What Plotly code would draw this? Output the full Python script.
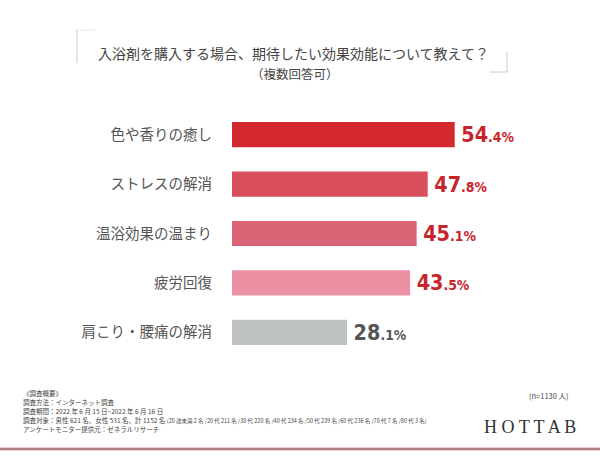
import plotly.graph_objects as go

categories = ["色や香りの癒し", "ストレスの解消", "温浴効果の温まり", "疲労回復", "肩こり・腰痛の解消"]
values = [54.4, 47.8, 45.1, 43.5, 28.1]
bar_colors = ["#d4282f", "#d94f5c", "#dc6477", "#ec91a3", "#c0c3c3"]
label_colors = ["#c8242c", "#c8242c", "#c8242c", "#c8242c", "#555555"]

title_text = "入浴剤を購入する場合、期待したい効果効能について教えて？"
subtitle_text = "（複数回答可）"
footer_lines = [
    "《調査概要》",
    "調査方法：インターネット調査",
    "調査期間：2022 年 6 月 15 日~2022 年 6 月 16 日",
    "調査対象：男性 621 名、女性 531 名、計 1152 名 <span style='font-size:5.5px'>(20 歳未満 2 名 /20 代 211 名 /30 代 220 名 /40 代 234 名 /50 代 239 名 /60 代 236 名 /70 代 7 名 /80 代 3 名)</span>",
    "アンケートモニター提供元：ゼネラルリサーチ",
]
n_text = "(n=1130 人)"
brand_text = "H O T T A B"

W, H = 600, 456
L, R, T, B = 232, 20, 110, 99
PW, PH = W - L - R, H - T - B


def px(x):
    return (x - L) / PW


def py(y):
    return (H - B - y) / PH


def fmt(v):
    s = f"{v:.1f}"
    i, d = s.split(".")
    return (f"<span style='font-size:18px'>\u00a0</span>{i}"
            f"<span style='font-size:22px'>.{d}%</span>")


CJK = "Noto Sans CJK JP, Noto Sans, sans-serif"
NUM = "Liberation Sans Narrow, DejaVu Sans Condensed, Arial Narrow, sans-serif"

fig = go.Figure(
    go.Bar(
        x=values,
        y=categories,
        orientation="h",
        marker=dict(color=bar_colors, line=dict(width=0)),
        text=[fmt(v) for v in values],
        textposition="outside",
        textfont=dict(family=NUM, size=34, color=label_colors, weight="bold"),
        cliponaxis=False,
        hoverinfo="skip",
    )
)

annotations = [
    dict(text=title_text, x=px(293), y=py(53), xref="paper", yref="paper",
         showarrow=False, xanchor="center", yanchor="middle",
         font=dict(family=CJK, size=14, color="#444444")),
    dict(text=subtitle_text, x=px(295), y=py(73), xref="paper", yref="paper",
         showarrow=False, xanchor="center", yanchor="middle",
         font=dict(family=CJK, size=12.5, color="#444444")),
    dict(text=n_text, x=px(570), y=py(395), xref="paper", yref="paper",
         showarrow=False, xanchor="right", yanchor="middle", borderpad=0,
         font=dict(family=CJK, size=7.5, color="#444444")),
    dict(text=brand_text, x=px(530), y=py(427), xref="paper", yref="paper",
         showarrow=False, xanchor="center", yanchor="middle",
         font=dict(family="Liberation Serif, DejaVu Serif, serif", size=18, color="#333333")),
]
for k, line in enumerate(footer_lines):
    annotations.append(
        dict(text=line, x=px(22), y=py(393 + 9 * k), xref="paper", yref="paper",
             showarrow=False, xanchor="left", yanchor="middle", borderpad=0,
             font=dict(family=CJK, size=6.5, color="#444444"))
    )

gray = "#cccccc"
shapes = [
    dict(type="line", xref="paper", yref="paper", x0=px(77), x1=px(77), y0=py(30), y1=py(63), line=dict(color=gray, width=1)),
    dict(type="line", xref="paper", yref="paper", x0=px(77), x1=px(95), y0=py(30), y1=py(30), line=dict(color="#e6e6e6", width=1)),
    dict(type="line", xref="paper", yref="paper", x0=px(507), x1=px(507), y0=py(52), y1=py(72), line=dict(color=gray, width=1)),
    dict(type="line", xref="paper", yref="paper", x0=px(490), x1=px(507), y0=py(72), y1=py(72), line=dict(color=gray, width=1)),
    dict(type="line", xref="paper", yref="paper", x0=px(0), x1=px(600), y0=py(449), y1=py(449), line=dict(color="#f3c9c9", width=4)),
    dict(type="line", xref="paper", yref="paper", x0=px(0), x1=px(600), y0=py(449), y1=py(449), line=dict(color="#6b3a3a", width=1.2)),
]

fig.update_layout(
    width=W, height=H,
    margin=dict(l=L, r=R, t=T, b=B, autoexpand=False),
    paper_bgcolor="white", plot_bgcolor="white",
    showlegend=False,
    bargap=0.49,
    xaxis=dict(range=[0, 85], visible=False, fixedrange=True),
    yaxis=dict(autorange="reversed", showgrid=False, zeroline=False, showline=False,
               ticks="", ticklabelstandoff=19, automargin=False,
               tickfont=dict(family=CJK, size=14.5, color="#555555"), fixedrange=True),
    annotations=annotations,
    shapes=shapes,
)

fig.write_html("out.html", config={"displayModeBar": False},
               post_script="document.body.style.margin='0';")
